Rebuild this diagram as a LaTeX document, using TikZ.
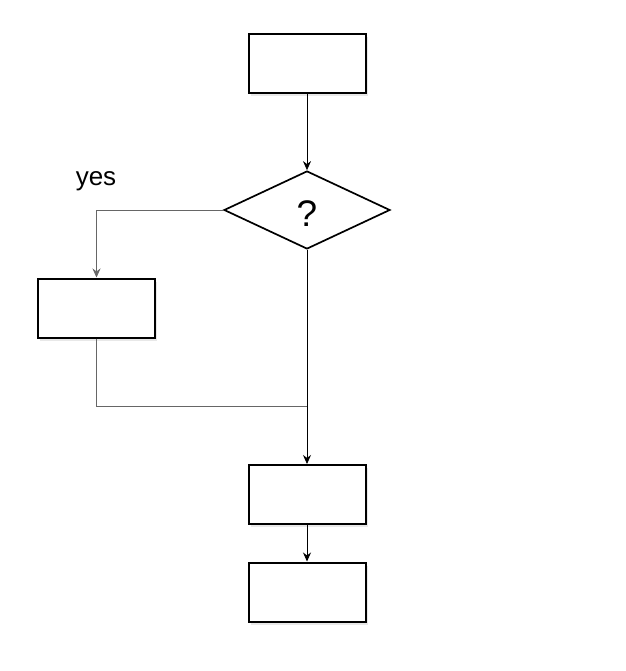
\documentclass[tikz,border=0pt]{standalone}
\usepackage{fontspec}
\setmainfont{Liberation Sans}
\usepackage{tikz}
\usetikzlibrary{arrows.meta,positioning,shapes.geometric,shadows}

\begin{document}
\begin{tikzpicture}[
    x=1pt, y=-1pt,
    box/.style={draw, line width=2pt, minimum width=117pt, minimum height=59pt, fill=white,
      drop shadow={opacity=0.18, shadow xshift=2pt, shadow yshift=-3pt}},
    cond/.style={draw, diamond, aspect=2.13, inner sep=0pt, minimum width=166pt, minimum height=78pt,
      line width=1.7pt, fill=white},
    arr/.style={-{Stealth[length=9pt, width=8pt]}, line width=0.8pt},
    ln/.style={line width=0.8pt, draw=black!60}
]
  \useasboundingbox (0,0) rectangle (625,671);

  % boxes
  \node[box] (start) at (307,63.5) {};
  \node[cond] (ask) at (307,210) {};
  \node[box] (left) at (96.5,308) {};
  \node[box] (third) at (307,494.5) {};
  \node[box] (last) at (307,592) {};

  % labels
  \node[font=\fontsize{37}{40}\selectfont] (mark) at (307,214) {?};
  \node[font=\fontsize{26}{30}\selectfont] (yes) at (96,181) {yes};
  \coordinate (join) at (307,406);

  % arrows
  \draw[arr] (start) -- (ask);
  \draw[arr, draw=black!60] (ask.west) -| (left.north);
  \draw[ln] (left.south) |- (join);
  \draw[arr] (ask.south) -- (third.north);
  \draw[arr] (third) -- (last);
\end{tikzpicture}
\end{document}
